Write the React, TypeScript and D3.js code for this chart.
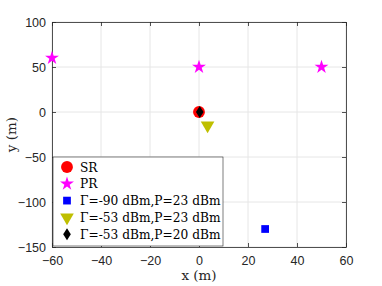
import React, { useEffect, useRef } from 'react';
import * as d3 from 'd3';

// reference data
const srPoints = [{ x: 0, y: 0 }];
const prPoints = [{ x: -60, y: 60 }, { x: 0, y: 50 }, { x: 50, y: 50 }];
const case1Points = [{ x: 27, y: -130 }];
const case2Points = [{ x: 3.5, y: -15 }];
const case3Points = [{ x: 0.3, y: 0 }];
const xTicks = [-60, -40, -20, 0, 20, 40, 60];
const yTicks = [-150, -100, -50, 0, 50, 100];
const legendLabels = ['SR', 'PR', 'Γ=-90 dBm,P=23 dBm', 'Γ=-53 dBm,P=23 dBm', 'Γ=-53 dBm,P=20 dBm'];

const W = 382;
const H = 286;
const margin = { top: 22, right: 36, bottom: 39, left: 52 };

export default function App() {
  const svgRef = useRef<SVGSVGElement>(null);

  useEffect(() => {
    const svg = d3.select(svgRef.current);
    svg.selectAll('*').remove();

    const x = d3.scaleLinear().domain([-60, 60]).range([margin.left, W - margin.right]);
    const y = d3.scaleLinear().domain([-150, 100]).range([H - margin.bottom, margin.top]);

    svg.append('rect').attr('width', W).attr('height', H).attr('fill', '#fff');

    // grid
    const grid = svg.append('g');
    xTicks.forEach(t => {
      grid.append('line')
        .attr('x1', x(t)).attr('x2', x(t))
        .attr('y1', y(-150)).attr('y2', y(100))
        .attr('stroke', '#e6e6e6').attr('stroke-width', 1);
    });
    yTicks.forEach(t => {
      grid.append('line')
        .attr('x1', x(-60)).attr('x2', x(60))
        .attr('y1', y(t)).attr('y2', y(t))
        .attr('stroke', '#e6e6e6').attr('stroke-width', 1);
    });

    const axisColor = '#262626';
    const tickLen = 4;

    // axes with inward ticks
    const xAxis = svg.append('g')
      .attr('transform', `translate(0,${y(-150)})`)
      .call(d3.axisBottom(x).tickValues(xTicks).tickSizeInner(-tickLen).tickSizeOuter(0).tickPadding(9));
    const yAxis = svg.append('g')
      .attr('transform', `translate(${x(-60)},0)`)
      .call(d3.axisLeft(y).tickValues(yTicks).tickSizeInner(-tickLen).tickSizeOuter(0).tickPadding(6));
    svg.append('g')
      .attr('transform', `translate(0,${y(100)})`)
      .call(d3.axisTop(x).tickValues(xTicks).tickSizeInner(-tickLen).tickSizeOuter(0).tickFormat(() => ''));
    svg.append('g')
      .attr('transform', `translate(${x(60)},0)`)
      .call(d3.axisRight(y).tickValues(yTicks).tickSizeInner(-tickLen).tickSizeOuter(0).tickFormat(() => ''));

    svg.selectAll('.domain').attr('stroke', axisColor).attr('stroke-width', 0.8);
    svg.selectAll('.tick line').attr('stroke', axisColor).attr('stroke-width', 0.8);
    [xAxis, yAxis].forEach(a => a.selectAll('text')
      .style('font-family', 'Liberation Sans, Arial, sans-serif')
      .style('font-size', '12.5px')
      .attr('fill', axisColor));

    // axis labels
    svg.append('text')
      .attr('x', (x(-60) + x(60)) / 2).attr('y', 280)
      .attr('text-anchor', 'middle')
      .style('font-family', 'DejaVu Serif, serif').style('font-size', '13.5px')
      .attr('fill', axisColor)
      .text('x (m)');
    svg.append('text')
      .attr('transform', `translate(16,${(y(-150) + y(100)) / 2}) rotate(-90)`)
      .attr('text-anchor', 'middle')
      .style('font-family', 'DejaVu Serif, serif').style('font-size', '13.5px')
      .attr('fill', axisColor)
      .text('y (m)');

    const star = d3.symbol().type(d3.symbolStar).size(60);
    const circle = d3.symbol().type(d3.symbolCircle).size(110);
    const square = d3.symbol().type(d3.symbolSquare).size(60);
    const tri = d3.symbol().type(d3.symbolTriangle).size(80);
    const diamond = d3.symbol().type(d3.symbolDiamond).size(42);

    const markers = [
      { pts: srPoints, path: circle, fill: '#ff0000', rot: 0, sx: 1 },
      { pts: prPoints, path: star, fill: '#ff00ff', rot: 0, sx: 1 },
      { pts: case1Points, path: square, fill: '#0000ff', rot: 0, sx: 1 },
      { pts: case2Points, path: tri, fill: '#bfbf00', rot: 180, sx: 1 },
      { pts: case3Points, path: diamond, fill: '#000000', rot: 0, sx: 1.1 },
    ];

    const plot = svg.append('g');
    markers.forEach(m => {
      plot.selectAll(null)
        .data(m.pts)
        .enter()
        .append('path')
        .attr('d', m.path() as string)
        .attr('transform', d => `translate(${x(d.x)},${y(d.y)}) rotate(${m.rot}) scale(${m.sx},1)`)
        .attr('fill', m.fill);
    });

    // legend
    const lg = svg.append('g');
    const lx = 53;
    const ly = 157;
    lg.append('rect')
      .attr('x', lx).attr('y', ly)
      .attr('width', 170).attr('height', 89)
      .attr('fill', '#fff').attr('stroke', '#262626').attr('stroke-width', 0.6);
    legendLabels.forEach((label, i) => {
      const cy = ly + 10 + i * 16.8;
      const m = markers[i];
      lg.append('path')
        .attr('d', m.path() as string)
        .attr('transform', `translate(${lx + 14},${cy}) rotate(${m.rot}) scale(${m.sx},1)`)
        .attr('fill', m.fill);
      lg.append('text')
        .attr('x', lx + 27).attr('y', cy + 4.5)
        .style('font-family', 'DejaVu Serif, serif').style('font-size', '12.2px')
        .attr('fill', '#000')
        .text(label);
    });
  }, []);

  return (
    <svg ref={svgRef} width={W} height={H} style={{ position: 'absolute', left: 0, top: 0 }} />
  );
}
